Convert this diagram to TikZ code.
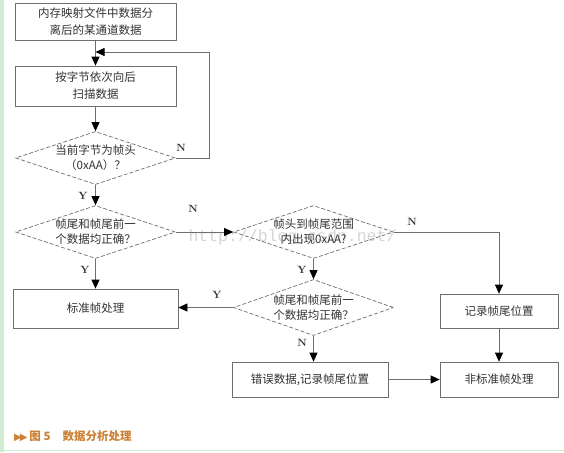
\documentclass[tikz,border=0pt]{standalone}
\usepackage{fontspec}
\newfontfamily\cjk{Noto Sans CJK SC}
\newfontfamily\dejavu{DejaVu Sans}
\newfontfamily\monowm{Liberation Mono}
\usetikzlibrary{shapes.geometric,arrows.meta}
\definecolor{linegray}{HTML}{6E6E6E}
\definecolor{txtgray}{HTML}{333333}
\definecolor{capor}{HTML}{CC8236}
\definecolor{strip}{HTML}{D2ECD4}
\begin{document}
\begin{tikzpicture}[x=1pt,y=-1pt,
  box/.style={draw=linegray, line width=0.7pt, inner sep=0pt, align=center,
    text=txtgray, font=\cjk\fontsize{11.5}{17}\selectfont},
  dia/.style={diamond, draw=linegray, dashed, dash pattern=on 4pt off 2pt, line width=0.7pt,
    inner sep=0pt, minimum width=160pt, minimum height=53pt},
  dtext/.style={align=center, text=txtgray, font=\cjk\fontsize{11.5}{15}\selectfont},
  yn/.style={font=\fontsize{10.5}{12}\selectfont\bfseries, text=txtgray},
  arr/.style={draw=linegray, line width=0.7pt, -{Triangle[length=9pt,width=8pt,color=black]}},
  ln/.style={draw=linegray, line width=0.7pt}]
\useasboundingbox (0,0) rectangle (564,452);
\fill[white] (0,0) rectangle (564,452);
\fill[strip] (0,0) rectangle (4,452);
\draw[strip, line width=1pt] (0,450) -- (564,450);

% watermark
\node[text=black!16, font=\monowm\fontsize{16.5}{18}\selectfont, anchor=west] (wm) at (185,237) {http://blog.csdn.net/};

\node[box, minimum width=161pt, minimum height=37pt] (b1) at (95.5,21.5) {内存映射文件中数据分\\离后的某通道数据};
\node[box, minimum width=161pt, minimum height=40pt] (b2) at (95.5,86) {按字节依次向后\\扫描数据};
\node[dia] (d1) at (95.5,158) {};
\node[dtext] (t1) at (d1.center) {当前字节为帧头\\（0xAA）？};
\node[dia] (d2) at (95.5,232) {};
\node[dtext] (t2) at (d2.center) {帧尾和帧尾前一\\个数据均正确？};
\node[box, minimum width=165pt, minimum height=39pt] (b3) at (95.5,308.5) {标准帧处理};
\node[dia] (d3) at (313.5,232) {};
\node[dtext] (t3) at (d3.center) {帧头到帧尾范围\\内出现0xAA?};
\node[dia, minimum height=56pt] (d4) at (313.5,307.5) {};
\node[dtext] (t4) at (d4.center) {帧尾和帧尾前一\\个数据均正确？};
\node[box, minimum width=118pt, minimum height=34pt] (b4) at (499,311) {记录帧尾位置};
\node[box, minimum width=156pt, minimum height=35pt] (b5) at (310,379.5) {错误数据,记录帧尾位置};
\node[box, minimum width=118pt, minimum height=35pt] (b6) at (499,379.5) {非标准帧处理};

\coordinate (loopin) at (95.5,52);
\path[arr] (b1.south) -- (b2.north);
\path[arr] (b2.south) -- (d1.north);
\path[arr] (d1.east) -- ++(33,0) |- (loopin);
\path[arr] (d1.south) -- (d2.north);
\path[arr] (d2.south) -- (b3.north);
\path[arr] (d2.east) -- (d3.west);
\path[arr] (d3.east) -| (b4.north);
\path[arr] (d3.south) -- (d4.north);
\path[arr] (d4.west) -- (d4.west -| b3.east);
\path[arr] (d4.south) -- (d4.south |- b5.north);
\path[arr] (b5.east) -- (b6.west);
\path[arr] (b4.south) -- (b6.north);

\node[yn] (n1) at (181,148) {N};
\node[yn] (y1) at (83,196) {Y};
\node[yn] (n2) at (193,209) {N};
\node[yn] (y2) at (85,270) {Y};
\node[yn] (n3) at (412,222) {N};
\node[yn] (y3) at (302,270) {Y};
\node[yn] (y4) at (217,295) {Y};
\node[yn] (n4) at (302,343) {N};

\node[anchor=west, text=capor, inner sep=0pt, font=\cjk\fontsize{11.5}{13}\selectfont\bfseries] (cap) at (14,436)
  {{\dejavu\fontsize{10}{10}\selectfont ▶\kern-2pt▶}\,图 5\hspace{12pt}数据分析处理};
\end{tikzpicture}
\end{document}
